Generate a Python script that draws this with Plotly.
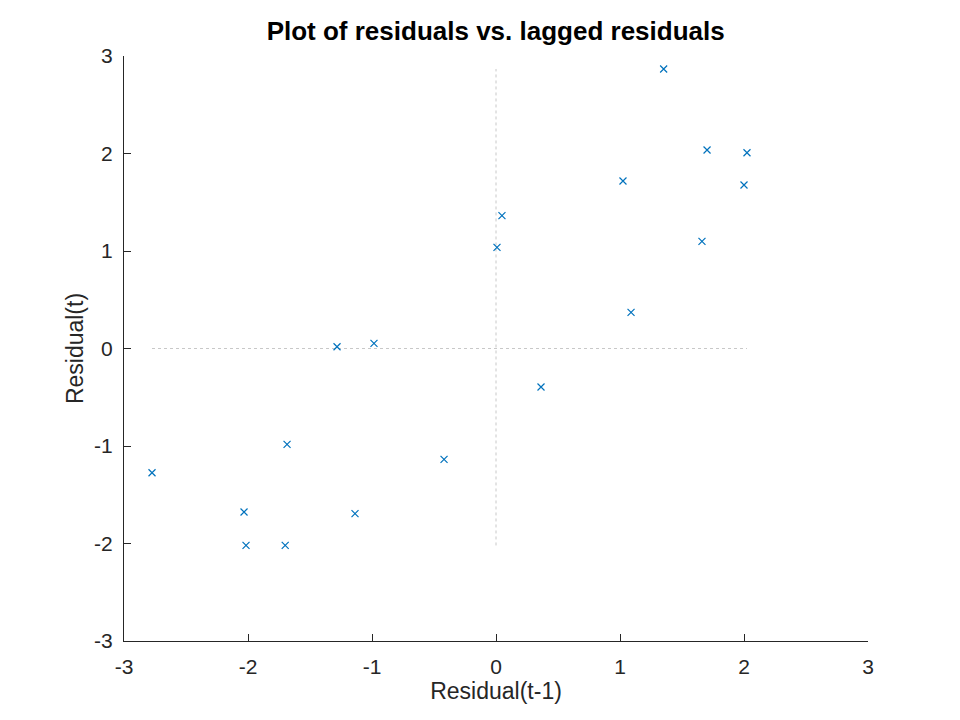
import plotly.graph_objects as go

# residuals
lagged_resid = [-2.774, -2.032, -2.016, -1.700, -1.685, -1.137, -1.282, -0.984, -0.419, 0.008,
                0.048, 0.363, 1.089, 1.352, 1.702, 2.024, 1.024, 2.000, 1.661]
resid = [-1.274, -1.677, -2.020, -2.020, -0.983, -1.694, 0.018, 0.053, -1.137, 1.038,
         1.362, -0.395, 0.371, 2.867, 2.036, 2.008, 1.718, 1.677, 1.099]

title_text = "Plot of residuals vs. lagged residuals"
x_label = "Residual(t-1)"
y_label = "Residual(t)"
tick_vals = [-3, -2, -1, 0, 1, 2, 3]
tick_text = ["-3", "-2", "-1", "0", "1", "2", "3"]

axis_color = "#262626"
marker_color = "#0072BD"
font_family = "Liberation Sans, Arial, sans-serif"

fig = go.Figure()

# dotted zero lines spanning the data range
fig.add_trace(go.Scatter(x=[min(lagged_resid), max(lagged_resid)], y=[0, 0],
                         mode="lines", line=dict(color="#c8c8c8", width=1, dash="dot"),
                         hoverinfo="none"))
fig.add_trace(go.Scatter(x=[0, 0], y=[min(resid), max(resid)],
                         mode="lines", line=dict(color="#c8c8c8", width=1, dash="dot"),
                         hoverinfo="none"))

fig.add_trace(go.Scatter(x=lagged_resid, y=resid, mode="markers",
                         marker=dict(symbol="x-thin", size=7,
                                     line=dict(width=1.2, color=marker_color),
                                     color=marker_color)))

axis_style = dict(range=[-3, 3], tickvals=tick_vals, ticktext=tick_text, ticks="inside",
                  ticklen=7, tickcolor=axis_color, showline=True, linecolor=axis_color,
                  linewidth=1, showgrid=False, zeroline=False, mirror=False,
                  tickfont=dict(size=21, color=axis_color, family=font_family))

fig.update_xaxes(**axis_style, title=dict(text=x_label, standoff=4,
                 font=dict(size=23, color=axis_color, family=font_family)),
                 ticklabelstandoff=7)
fig.update_yaxes(**axis_style, title=dict(text=y_label, standoff=4,
                 font=dict(size=23, color=axis_color, family=font_family)),
                 ticklabelstandoff=6)

fig.update_layout(
    width=960, height=720,
    title=dict(text="<b>" + title_text + "</b>", x=0.508, xanchor="center", y=0.968,
               yanchor="middle", font=dict(size=26, color="black", family=font_family)),
    showlegend=False,
    plot_bgcolor="white", paper_bgcolor="white",
    margin=dict(l=116, r=100, t=48, b=87),
)

fig.write_html("out.html")
